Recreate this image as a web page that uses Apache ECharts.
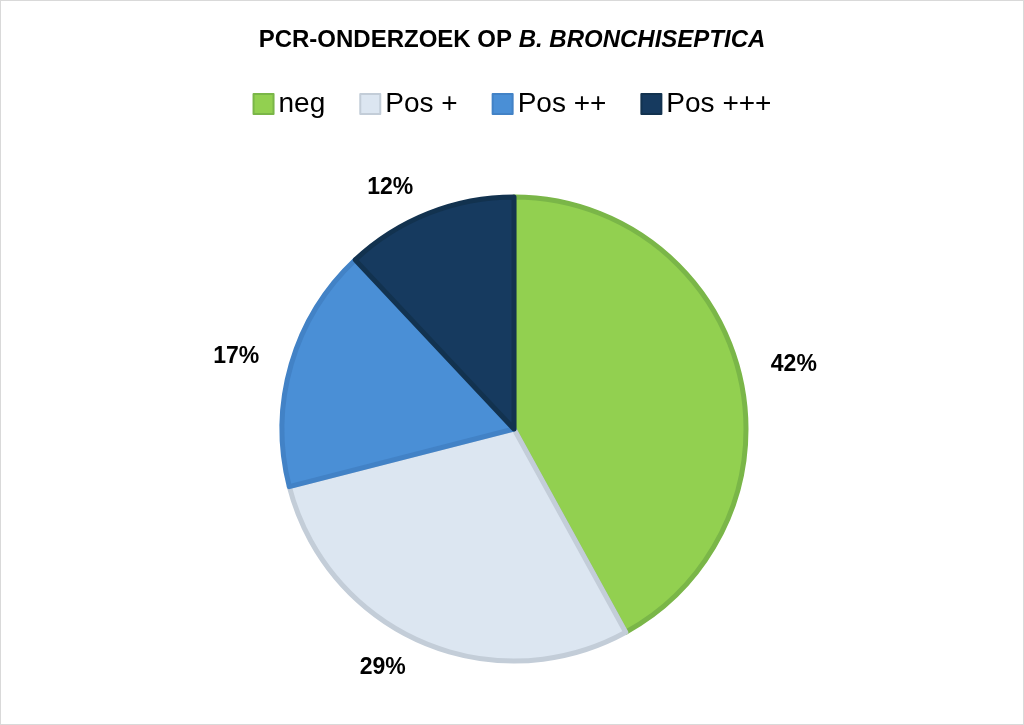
<!DOCTYPE html>
<html><head><meta charset="utf-8">
<script src="https://cdn.jsdelivr.net/npm/echarts@6/dist/echarts.min.js"></script>
<style>html,body{margin:0;padding:0;background:#fff}#c{width:1024px;height:725px;box-sizing:border-box;border:1px solid #d9d9d9}</style>
</head><body><div id="c"></div>
<script>
const categories = ['neg', 'Pos +', 'Pos ++', 'Pos +++'];
const values = [42, 29, 17, 12];
const fillColors = ['#92d050', '#dce6f1', '#4a8fd6', '#163a5f'];
const borderColors = ['#7ab648', '#c3cdd8', '#4282c6', '#12324f'];
const chart = echarts.init(document.getElementById('c'));
chart.setOption({
  animation: false,
  title: {
    text: '{n|PCR-ONDERZOEK OP }{i|B. BRONCHISEPTICA}',
    left: 'center', top: 22,
    textStyle: { rich: {
      n: { fontFamily: 'Liberation Sans', fontWeight: 'bold', fontSize: 24, color: '#000' },
      i: { fontFamily: 'Liberation Sans', fontWeight: 'bold', fontStyle: 'italic', fontSize: 24, color: '#000' }
    } }
  },
  legend: {
    data: categories, top: 84, left: 'center', itemWidth: 20, itemHeight: 20, itemGap: 34,
    icon: 'rect',
    textStyle: { fontFamily: 'Liberation Sans', fontSize: 28, color: '#000' }
  },
  series: [{
    type: 'pie', center: [513, 428], radius: 232, startAngle: 90, clockwise: true,
    data: categories.map((c, i) => ({ name: c, value: values[i],
      itemStyle: { color: fillColors[i], borderColor: borderColors[i], borderWidth: 5 } })),
    label: { show: true, position: 'outside', formatter: '{d}%',
      fontFamily: 'Liberation Sans', fontWeight: 'bold', fontSize: 23, color: '#000' },
    labelLine: { show: false, length: 28, length2: 0 }
  }]
});
</script></body></html>
